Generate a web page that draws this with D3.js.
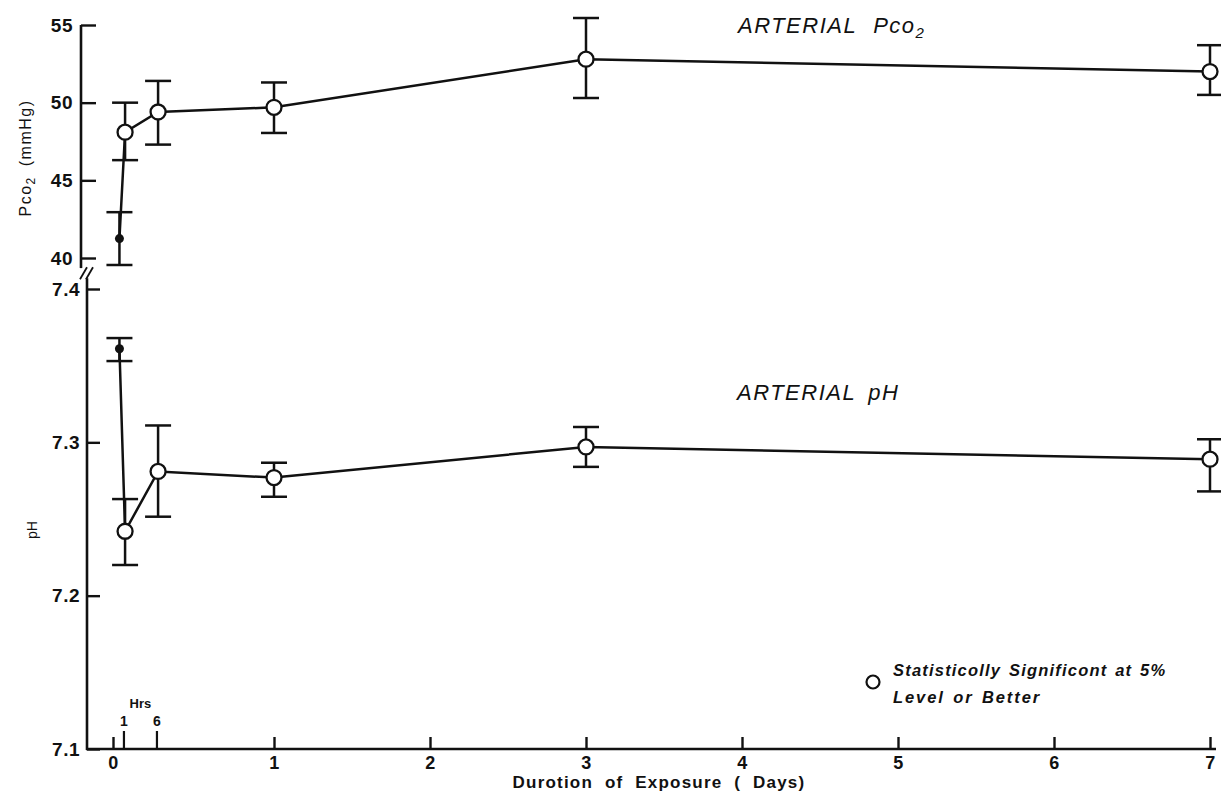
<!DOCTYPE html>
<html><head><meta charset="utf-8">
<script src="https://cdn.jsdelivr.net/npm/d3@7"></script>
<style>
body{margin:0;background:#fff;}
svg{display:block;}
text{font-family:"Liberation Sans",Arial,sans-serif;fill:#111;}
</style></head><body><svg id="chart" width="1221" height="794"></svg>
<script>
// ---- data ----
const timesDays   = [0.04, 0.075, 0.28, 1, 3, 7];   // control, 1 hr, 6 hr, 1 d, 3 d, 7 d
const significant = [false, true, true, true, true, true];
const pco2Mean = [41.25, 48.1, 49.4, 49.7, 52.8, 52.0];
const pco2Low  = [39.55, 46.3, 47.3, 48.05, 50.3, 50.5];
const pco2High = [42.95, 50.0, 51.4, 51.3, 55.45, 53.7];
const phMean = [7.361, 7.242, 7.281, 7.277, 7.297, 7.289];
const phLow  = [7.353, 7.220, 7.2515, 7.2645, 7.284, 7.268];
const phHigh = [7.368, 7.263, 7.311, 7.2867, 7.310, 7.302];
const dayTicks = [0,1,2,3,4,5,6,7];
const dayLabels = ["0","1","2","3","4","5","6","7"];
const hourTicks = [0.068, 0.273];
const hourLabels = ["1","6"];
const pco2Ticks = [40,45,50,55];
const phTicks = [7.1,7.2,7.3,7.4];
const phTickLabels = ["7.1","7.2","7.3","7.4"];

const svg = d3.select("#chart");
const ink = "#111";

const x  = d3.scaleLinear().domain([0,1,7]).range([113,274,1210]);
const yP = d3.scaleLinear().domain([40,55]).range([258,25]);
const yH = d3.scaleLinear().domain([7.1,7.4]).range([749,289]);

const axP = 81, axH = 87;

// ---- axes ----
function styleAxis(g, size){
  g.select(".domain").remove();
  g.selectAll(".tick line").attr("stroke",ink).attr("stroke-width",2.4);
  g.selectAll(".tick text").attr("fill",ink).style("font-size",size+"px")
    .style("font-weight","bold").style("letter-spacing","0.5px")
    .style("font-family",'"Liberation Sans",Arial,sans-serif');
}
const gP = svg.append("g").attr("transform",`translate(${axP},0)`)
  .call(d3.axisLeft(yP).tickValues(pco2Ticks).tickSizeInner(-15).tickSizeOuter(0).tickPadding(8));
styleAxis(gP,19);
svg.append("line").attr("x1",axP).attr("x2",axP).attr("y1",yP(55)).attr("y2",yP(39.35))
  .attr("stroke",ink).attr("stroke-width",2.6);

const gH = svg.append("g").attr("transform",`translate(${axH},0)`)
  .call(d3.axisLeft(yH).tickValues(phTicks).tickFormat((d,i)=>phTickLabels[i]).tickSizeInner(-13).tickSizeOuter(0).tickPadding(7));
styleAxis(gH,19);
svg.append("line").attr("x1",axH).attr("x2",axH).attr("y1",yH(7.407)).attr("y2",yH(7.1)+1)
  .attr("stroke",ink).attr("stroke-width",2.6);

// axis break marks
const bY = (yP(39.35)+yH(7.407))/2;
[-3,3].forEach(o=>{
  svg.append("line").attr("x1",axH-4+o).attr("y1",bY+6).attr("x2",axH+3+o).attr("y2",bY-6)
    .attr("stroke",ink).attr("stroke-width",1.8);
});

const gX = svg.append("g").attr("transform",`translate(0,${yH(7.1)})`)
  .call(d3.axisBottom(x).tickValues(dayTicks).tickFormat((d,i)=>dayLabels[i]).tickSizeInner(-12).tickSizeOuter(0).tickPadding(7));
styleAxis(gX,18);
svg.append("line").attr("x1",axH-1).attr("x2",x(7)+6).attr("y1",yH(7.1)).attr("y2",yH(7.1))
  .attr("stroke",ink).attr("stroke-width",2.6);

// hour ticks
const hg = svg.append("g");
hourTicks.forEach((h,i)=>{
  hg.append("line").attr("x1",x(h)).attr("x2",x(h)).attr("y1",yH(7.1)).attr("y2",yH(7.1)-18)
    .attr("stroke",ink).attr("stroke-width",2.2);
  hg.append("text").attr("x",x(h)).attr("y",yH(7.1)-23).attr("text-anchor","middle")
    .style("font-size","14px").style("font-weight","bold").text(hourLabels[i]);
});
hg.append("text").attr("x",(x(hourTicks[0])+x(hourTicks[1]))/2).attr("y",yH(7.1)-41)
  .attr("text-anchor","middle").style("font-size","13px").style("font-weight","bold").text("Hrs");

// ---- series ----
const idx = d3.range(timesDays.length);
function drawSeries(mean, lo, hi, y){
  const g = svg.append("g");
  const line = d3.line().x(i=>x(timesDays[i])).y(i=>y(mean[i]));
  g.append("path").attr("d",line(idx)).attr("fill","none").attr("stroke",ink).attr("stroke-width",2.5);
  const cap = 13;
  idx.forEach(i=>{
    const cx = x(timesDays[i]);
    g.append("line").attr("x1",cx).attr("x2",cx).attr("y1",y(lo[i])).attr("y2",y(hi[i]))
      .attr("stroke",ink).attr("stroke-width",2.5);
    [lo[i],hi[i]].forEach(v=>{
      g.append("line").attr("x1",cx-cap).attr("x2",cx+cap).attr("y1",y(v)).attr("y2",y(v))
        .attr("stroke",ink).attr("stroke-width",2.5);
    });
  });
  idx.forEach(i=>{
    const cx = x(timesDays[i]);
    if(significant[i]){
      g.append("circle").attr("cx",cx).attr("cy",y(mean[i])).attr("r",7.5)
        .attr("fill","#fff").attr("stroke",ink).attr("stroke-width",2.3);
    } else {
      g.append("circle").attr("cx",cx).attr("cy",y(mean[i])).attr("r",4.5).attr("fill",ink);
    }
  });
}
drawSeries(pco2Mean,pco2Low,pco2High,yP);
drawSeries(phMean,phLow,phHigh,yH);

// ---- titles ----
const t1 = svg.append("text").attr("x",738).attr("y",33).style("font-size","22px")
  .style("font-style","italic").style("letter-spacing","1.5px");
t1.append("tspan").text("ARTERIAL");
t1.append("tspan").attr("dx",16).text("Pco");
t1.append("tspan").attr("dy",5).style("font-size","15px").text("2");

const t2 = svg.append("text").attr("x",737).attr("y",400).style("font-size","22px")
  .style("font-style","italic").style("letter-spacing","1.5px");
t2.append("tspan").text("ARTERIAL");
t2.append("tspan").attr("dx",12).text("pH");

// y-axis titles
const yt = svg.append("text").attr("transform","translate(31,158) rotate(-90)")
  .attr("text-anchor","middle").style("font-size","16px").style("letter-spacing","1.5px");
yt.append("tspan").text("Pco");
yt.append("tspan").attr("dy",4).style("font-size","12px").text("2");
yt.append("tspan").attr("dy",-4).attr("dx",10).text("(mmHg)");

svg.append("text").attr("transform","translate(37,530) rotate(-90)").attr("text-anchor","middle")
  .style("font-size","14px").text("pH");

// x-axis title
svg.append("text").attr("x",659).attr("y",788).attr("text-anchor","middle")
  .style("font-size","17px").style("font-weight","bold").style("letter-spacing","1.2px")
  .style("word-spacing","6px").text("Durotion of Exposure ( Days)");

// legend
svg.append("circle").attr("cx",873).attr("cy",682).attr("r",6.5).attr("fill","#fff")
  .attr("stroke",ink).attr("stroke-width",2.2);
svg.append("text").attr("x",893).attr("y",676).style("font-size","16.5px").style("font-weight","bold")
  .style("font-style","italic").style("letter-spacing","1.2px").style("word-spacing","2px")
  .text("Statisticolly Significont at 5%");
svg.append("text").attr("x",893).attr("y",703).style("font-size","16.5px").style("font-weight","bold")
  .style("font-style","italic").style("letter-spacing","1.9px").style("word-spacing","2px")
  .text("Level or Better");
</script></body></html>
